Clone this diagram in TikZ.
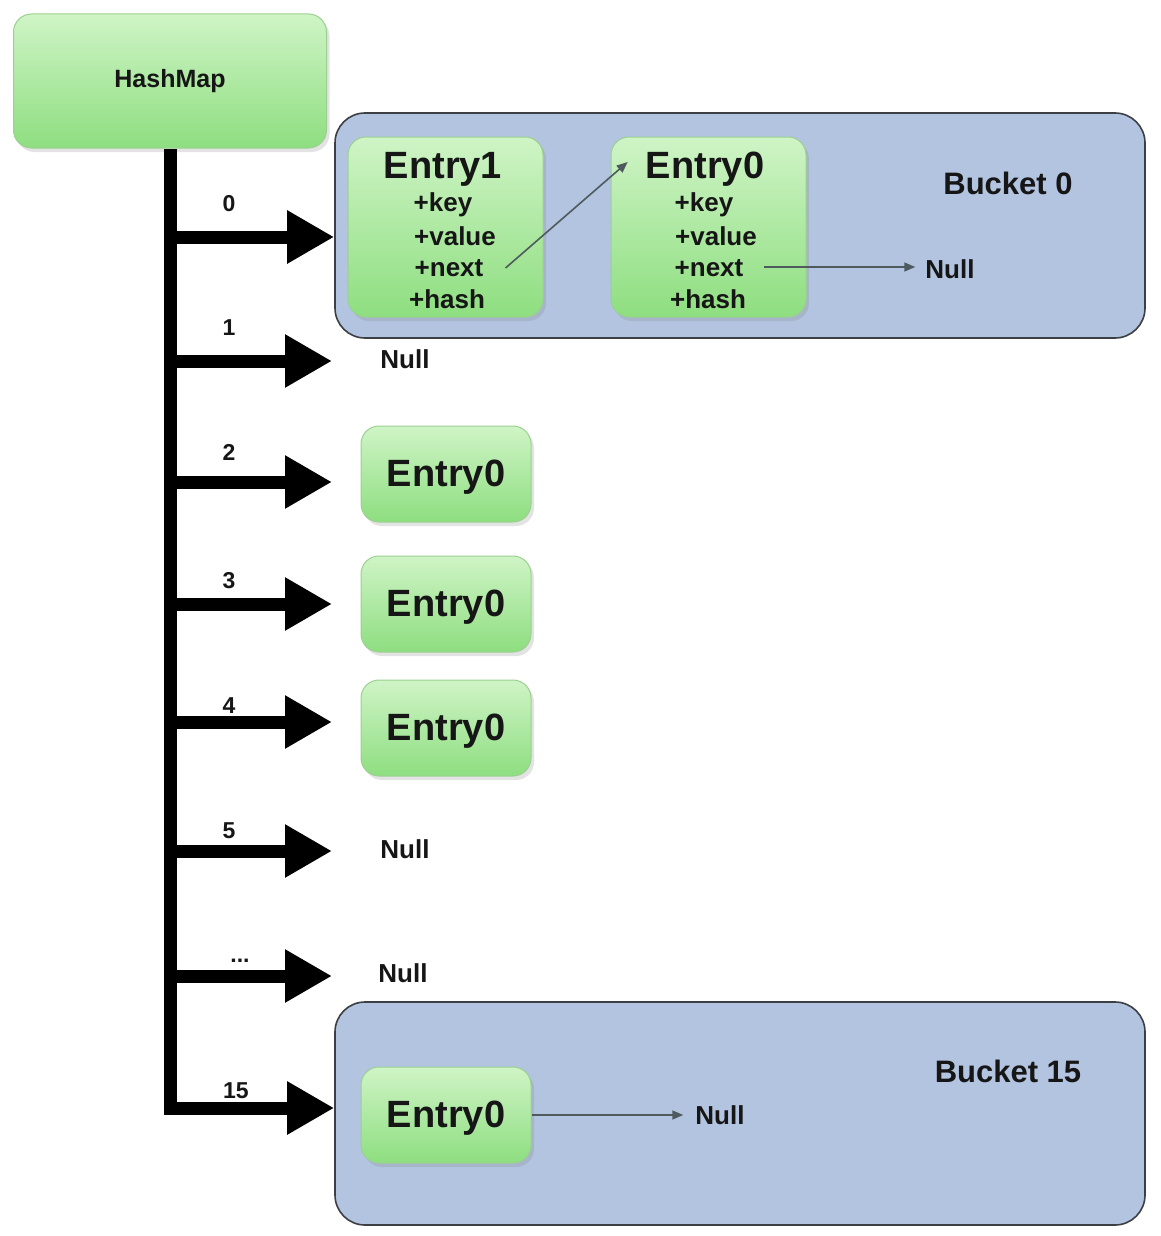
\documentclass[tikz,border=0pt]{standalone}
\usepackage{fontspec}
\setmainfont{Liberation Sans}
\usetikzlibrary{arrows.meta,shadows}
\definecolor{gtop}{HTML}{CFF4C6}
\definecolor{gbot}{HTML}{8EDE80}
\definecolor{gedge}{HTML}{9CD091}
\definecolor{bfill}{HTML}{B2C4DF}
\definecolor{bedge}{HTML}{3C3F44}
\definecolor{txt}{HTML}{161616}
\definecolor{thin}{HTML}{4F5A5E}
\newcommand\myfs[1]{\fontsize{#1}{#1}\selectfont\bfseries}
\begin{document}
\begin{tikzpicture}[x=1pt,y=-1pt,
  greenbox/.style={draw=gedge, line width=1pt, rounded corners=18pt,
    top color=gtop, bottom color=gbot,
    drop shadow={shadow xshift=3pt, shadow yshift=-4pt, opacity=0.22}},
  bucketbox/.style={draw=bedge, line width=1.6pt, rounded corners=30pt, fill=bfill},
  spine/.style={line width=13pt, line join=miter, -{Triangle[length=47pt,width=50pt]}},
  thinarrow/.style={draw=thin, line width=1.6pt, -{Triangle[length=11pt,width=9pt]}},
  lbl/.style={text=txt, font=\myfs{23}, inner sep=0pt},
  title/.style={text=txt, font=\myfs{38}, inner sep=0pt, text depth=2pt},
  field/.style={text=txt, font=\myfs{26}, inner sep=0pt},
  nulltxt/.style={text=txt, font=\myfs{26}, inner sep=0pt},
  bucketlbl/.style={text=txt, font=\myfs{31}, inner sep=0pt},
  hmtxt/.style={text=txt, font=\myfs{25}}
]
\useasboundingbox (0,0) rectangle (1160,1236);
\fill[white] (0,0) rectangle (1160,1236);

% buckets
\node[bucketbox, minimum width=810pt, minimum height=225pt] (bk0) at (740,225.5) {};
\node[bucketbox, minimum width=810pt, minimum height=223pt] (bk15) at (740,1113.5) {};
\node[bucketlbl] (bk0lbl) at (1008,183) {Bucket 0};
\node[bucketlbl] (bk15lbl) at (1008,1071) {Bucket 15};

% HashMap
\node[greenbox, hmtxt, minimum width=313pt, minimum height=134pt] (hm) at (170,81) {HashMap};

% arrow end points
\coordinate (t0) at (bk0.west |- 0,237);
\coordinate (t1) at (332,361);
\coordinate (t2) at (332,482);
\coordinate (t3) at (332,604);
\coordinate (t4) at (332,722);
\coordinate (t5) at (332,851);
\coordinate (t6) at (332,976);
\coordinate (t15) at (bk15.west |- 0,1108);

% spine and branches
\draw[spine] (hm.south) |- (t15);
\foreach \t in {t0,t1,t2,t3,t4,t5,t6}
  \draw[spine] (hm.south |- \t) -- (\t);

% index labels
\node[lbl] (l0) at (229,204) {0};
\node[lbl] (l1) at (229,328) {1};
\node[lbl] (l2) at (229,452) {2};
\node[lbl] (l3) at (229,581) {3};
\node[lbl] (l4) at (229,706) {4};
\node[lbl] (l5) at (229,831) {5};
\node[lbl] (l6) at (240,961) {...};
\node[lbl] (l15) at (236,1091) {15};

% bucket 0 entries
\node[greenbox, minimum width=195pt, minimum height=180pt] (e1box) at (445.5,227) {};
\node[greenbox, minimum width=195pt, minimum height=180pt] (e0box) at (708.5,227) {};
\node[title] (e1title) at (443,166) {Entry1};
\node[field] (e1key) at (443,205) {+key};
\node[field] (e1value) at (455,236) {+value};
\node[field] (e1next) at (449,268) {+next};
\node[field] (e1hash) at (447,299) {+hash};
\node[title] (e0title) at (705,166) {Entry0};
\node[field] (e0key) at (704,205) {+key};
\node[field] (e0value) at (716,236) {+value};
\node[field] (e0next) at (709,268) {+next};
\node[field] (e0hash) at (708,299) {+hash};
\node[nulltxt] (null0) at (950,269) {Null};
\draw[thinarrow] ([xshift=22pt]e1next.east) -- ([xshift=-18pt,yshift=4pt]e0title.west);
\draw[thinarrow] ([xshift=20pt,yshift=1pt]e0next.east) -- ([xshift=-10pt,yshift=1pt]null0.west |- e0next.east);

% other rows
\node[nulltxt] (null1) at (405,359) {Null};
\node[greenbox, title, minimum width=170pt, minimum height=96pt] (r2) at (446,474) {Entry0};
\node[greenbox, title, minimum width=170pt, minimum height=96pt] (r3) at (446,604) {Entry0};
\node[greenbox, title, minimum width=170pt, minimum height=96pt] (r4) at (446,728) {Entry0};
\node[nulltxt] (null5) at (405,849) {Null};
\node[nulltxt] (null6) at (403,973) {Null};

% bucket 15 entry
\node[greenbox, title, minimum width=170pt, minimum height=96pt] (r15) at (446,1115) {Entry0};
\node[nulltxt] (null15) at (720,1115) {Null};
\draw[thinarrow] (r15.east) -- ([xshift=-12pt]null15.west);
\end{tikzpicture}
\end{document}
